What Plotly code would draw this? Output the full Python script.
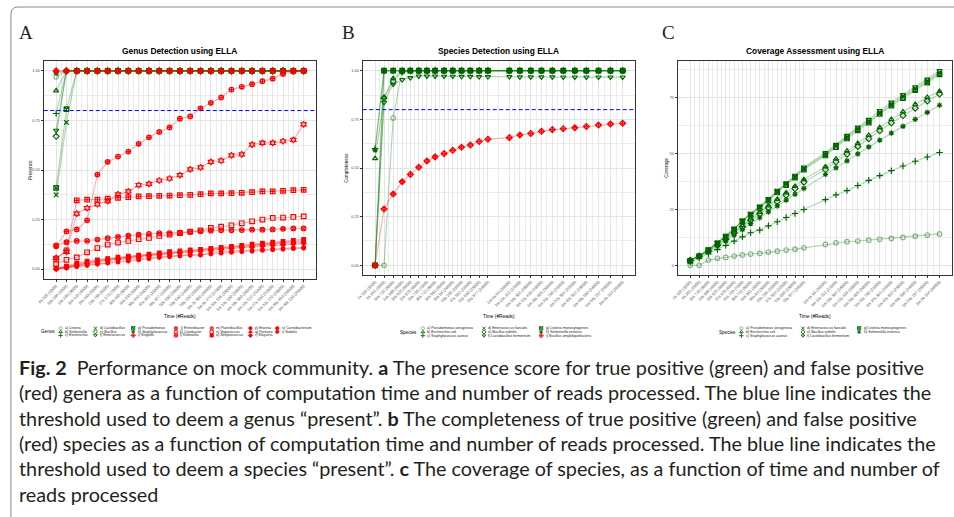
import plotly.graph_objects as go

W, H = 954, 517

# ---------------- DATA ----------------
# Panel A: genus presence vs. reads processed
reads_a = [1000, 2000, 3000, 4000, 5000, 6000, 7000, 8000, 9000, 10000, 11000, 12000, 13000,
           14000, 15000, 16000, 17000, 18000, 19000, 20000, 21000, 22000, 23000, 24000, 25000]
ticks_a = ["8s 205 (1000)", "10s 288 (2000)", "13s 239 (3000)", "16s 315 (4000)", "19s 183 (5000)",
           "23s 788 (6000)", "27s 173 (7000)", "30s 485 (8000)", "34s 393 (9000)", "38s 420 (10000)",
           "42s 452 (11000)", "46s 427 (12000)", "50s 430 (13000)", "53s 540 (14000)", "58s 220 (15000)",
           "1m 2s 380 (16000)", "1m 6s 272 (17000)", "1m 10s 195 (18000)", "1m 14s 130 (19000)",
           "1m 18s 380 (20000)", "1m 22s 512 (21000)", "1m 27s 103 (22000)", "1m 31s 270 (23000)",
           "1m 35s 450 (24000)", "1m 40s 133 (25000)"]

genus_names = ["a) Listeria", "b) Salmonella", "c) Escherichia", "d) Lactobacillus", "e) Bacillus",
               "f) Enterococcus", "g) Pseudomonas", "h) Staphylococcus", "i) Shigella", "j) Enterobacter",
               "k) Citrobacter", "l) Klebsiella", "m) Paenibacillus", "n) Vagococcus", "o) Streptococcus",
               "p) Erwinia", "q) Pantoea", "r) Kluyvera", "s) Carnobacterium", "t) Sodalis"]
genus_true_positive = [True, True, True, True, True, True, True, True,
                       False, False, False, False, False, False, False, False, False, False, False, False]

pres_listeria = [0.97, 1.00, 1.00, 1.00, 1.00, 1.00, 1.00, 1.00, 1.00, 1.00, 1.00, 1.00, 1.00, 1.00, 1.00, 1.00, 1.00, 1.00, 1.00, 1.00, 1.00, 1.00, 1.00, 1.00, 1.00]
pres_salmonella = [0.90, 1.00, 1.00, 1.00, 1.00, 1.00, 1.00, 1.00, 1.00, 1.00, 1.00, 1.00, 1.00, 1.00, 1.00, 1.00, 1.00, 1.00, 1.00, 1.00, 1.00, 1.00, 1.00, 1.00, 1.00]
pres_escherichia = [0.785, 1.00, 1.00, 1.00, 1.00, 1.00, 1.00, 1.00, 1.00, 1.00, 1.00, 1.00, 1.00, 1.00, 1.00, 1.00, 1.00, 1.00, 1.00, 1.00, 1.00, 1.00, 1.00, 1.00, 1.00]
pres_lactobacillus = [0.375, 0.74, 1.00, 1.00, 1.00, 1.00, 1.00, 1.00, 1.00, 1.00, 1.00, 1.00, 1.00, 1.00, 1.00, 1.00, 1.00, 1.00, 1.00, 1.00, 1.00, 1.00, 1.00, 1.00, 1.00]
pres_bacillus = [0.67, 1.00, 1.00, 1.00, 1.00, 1.00, 1.00, 1.00, 1.00, 1.00, 1.00, 1.00, 1.00, 1.00, 1.00, 1.00, 1.00, 1.00, 1.00, 1.00, 1.00, 1.00, 1.00, 1.00, 1.00]
pres_enterococcus = [0.70, 1.00, 1.00, 1.00, 1.00, 1.00, 1.00, 1.00, 1.00, 1.00, 1.00, 1.00, 1.00, 1.00, 1.00, 1.00, 1.00, 1.00, 1.00, 1.00, 1.00, 1.00, 1.00, 1.00, 1.00]
pres_pseudomonas = [0.41, 0.807, 1.00, 1.00, 1.00, 1.00, 1.00, 1.00, 1.00, 1.00, 1.00, 1.00, 1.00, 1.00, 1.00, 1.00, 1.00, 1.00, 1.00, 1.00, 1.00, 1.00, 1.00, 1.00, 1.00]
pres_staphylococcus = [0.99, 1.00, 1.00, 1.00, 1.00, 1.00, 1.00, 1.00, 1.00, 1.00, 1.00, 1.00, 1.00, 1.00, 1.00, 1.00, 1.00, 1.00, 1.00, 1.00, 1.00, 1.00, 1.00, 1.00, 1.00]
pres_shigella = [1.00, 1.00, 1.00, 1.00, 1.00, 1.00, 1.00, 1.00, 1.00, 1.00, 1.00, 1.00, 1.00, 1.00, 1.00, 1.00, 1.00, 1.00, 1.00, 1.00, 1.00, 1.00, 1.00, 1.00, 1.00]
pres_enterobacter = [0.115, 0.19, 0.20, 0.246, 0.477, 0.541, 0.568, 0.593, 0.632, 0.665, 0.692, 0.715, 0.759, 0.770, 0.811, 0.839, 0.866, 0.906, 0.920, 0.933, 0.948, 0.961, 0.985, 0.997, 1.00]
pres_citrobacter = [0.057, 0.087, 0.28, 0.308, 0.327, 0.343, 0.377, 0.392, 0.424, 0.43, 0.447, 0.457, 0.474, 0.503, 0.513, 0.541, 0.547, 0.574, 0.579, 0.628, 0.637, 0.637, 0.645, 0.652, 0.73]
pres_klebsiella = [0.05, 0.095, 0.347, 0.35, 0.35, 0.355, 0.36, 0.363, 0.367, 0.368, 0.37, 0.371, 0.373, 0.375, 0.378, 0.382, 0.382, 0.383, 0.385, 0.388, 0.392, 0.392, 0.395, 0.398, 0.40]
pres_paenibacillus = [0.12, 0.136, 0.142, 0.143, 0.149, 0.156, 0.162, 0.169, 0.174, 0.178, 0.182, 0.182, 0.184, 0.187, 0.191, 0.194, 0.196, 0.196, 0.197, 0.199, 0.199, 0.20, 0.203, 0.205, 0.205]
pres_vagococcus = [0.025, 0.047, 0.059, 0.085, 0.106, 0.124, 0.134, 0.142, 0.151, 0.157, 0.167, 0.174, 0.182, 0.189, 0.196, 0.208, 0.214, 0.221, 0.231, 0.241, 0.25, 0.258, 0.26, 0.263, 0.266]
pres_streptococcus = [0.005, 0.015, 0.03, 0.04, 0.047, 0.053, 0.06, 0.065, 0.07, 0.075, 0.082, 0.088, 0.092, 0.097, 0.10, 0.105, 0.11, 0.115, 0.12, 0.126, 0.131, 0.136, 0.14, 0.145, 0.15]
pres_erwinia = [0.0, 0.012, 0.025, 0.035, 0.043, 0.05, 0.055, 0.062, 0.068, 0.073, 0.079, 0.085, 0.09, 0.094, 0.098, 0.103, 0.108, 0.112, 0.117, 0.122, 0.127, 0.131, 0.135, 0.139, 0.142]
pres_pantoea = [0.003, 0.01, 0.02, 0.03, 0.04, 0.048, 0.054, 0.06, 0.066, 0.07, 0.076, 0.081, 0.085, 0.09, 0.094, 0.099, 0.104, 0.108, 0.113, 0.118, 0.123, 0.127, 0.131, 0.134, 0.137]
pres_kluyvera = [0.002, 0.008, 0.018, 0.028, 0.036, 0.043, 0.05, 0.056, 0.062, 0.067, 0.072, 0.077, 0.082, 0.086, 0.09, 0.095, 0.10, 0.104, 0.108, 0.112, 0.116, 0.12, 0.123, 0.127, 0.13]
pres_carnobacterium = [0.0, 0.008, 0.015, 0.022, 0.027, 0.032, 0.045, 0.05, 0.055, 0.058, 0.062, 0.066, 0.07, 0.073, 0.07, 0.085, 0.088, 0.09, 0.093, 0.095, 0.098, 0.101, 0.104, 0.107, 0.11]
pres_sodalis = [0.0, 0.005, 0.012, 0.018, 0.024, 0.03, 0.035, 0.04, 0.046, 0.052, 0.058, 0.062, 0.066, 0.069, 0.072, 0.076, 0.08, 0.084, 0.087, 0.09, 0.094, 0.097, 0.10, 0.103, 0.105]

genus_series = [pres_listeria, pres_salmonella, pres_escherichia, pres_lactobacillus, pres_bacillus,
                pres_enterococcus, pres_pseudomonas, pres_staphylococcus, pres_shigella, pres_enterobacter,
                pres_citrobacter, pres_klebsiella, pres_paenibacillus, pres_vagococcus, pres_streptococcus,
                pres_erwinia, pres_pantoea, pres_kluyvera, pres_carnobacterium, pres_sodalis]
presence_threshold = 0.8

# Panels B and C: time (s) at which each batch of reads was done
time_s = [2.1, 6.35, 10.7, 15.0, 18.9, 22.9, 26.8, 30.7, 35.0, 39.1, 43.3, 47.5, 51.7, 55.9,
          66.1, 71.1, 76.3, 81.4, 86.6, 91.8, 97.3, 102.8, 108.6, 114.3, 120.1]
ticks_bc = ["2s 105 (1000)", "6s 352 (2000)", "10s 715 (3000)", "14s 988 (4000)", "18s 925 (5000)",
            "22s 870 (6000)", "26s 793 (7000)", "30s 712 (8000)", "34s 961 (9000)", "39s 84 (10000)",
            "43s 296 (11000)", "47s 502 (12000)", "51s 690 (13000)", "55s 877 (14000)",
            "1m 6s 93 (16000)", "1m 11s 112 (17000)", "1m 16s 302 (18000)", "1m 21s 418 (19000)",
            "1m 26s 605 (20000)", "1m 31s 790 (21000)", "1m 37s 301 (22000)", "1m 42s 812 (23000)",
            "1m 48s 590 (24000)", "1m 54s 297 (25000)", "2m 0s 114 (26000)"]

species_names = ["a) Pseudomonas aeruginosa", "b) Escherichia coli", "c) Staphylococcus aureus",
                 "d) Enterococcus faecalis", "e) Bacillus subtilis", "f) Lactobacillus fermentum",
                 "g) Listeria monocytogenes", "h) Salmonella enterica", "i) Bacillus amyloliquefaciens"]

comp_paeruginosa = [0.0, 0.0, 0.757, 1.0, 1.0, 1.0, 1.0, 1.0, 1.0, 1.0, 1.0, 1.0, 1.0, 1.0, 1.0, 1.0, 1.0, 1.0, 1.0, 1.0, 1.0, 1.0, 1.0, 1.0, 1.0]
comp_ecoli = [0.549, 0.862, 0.96, 1.0, 1.0, 1.0, 1.0, 1.0, 1.0, 1.0, 1.0, 1.0, 1.0, 1.0, 1.0, 1.0, 1.0, 1.0, 1.0, 1.0, 1.0, 1.0, 1.0, 1.0, 1.0]
comp_saureus = [0.60, 1.0, 1.0, 1.0, 1.0, 1.0, 1.0, 1.0, 1.0, 1.0, 1.0, 1.0, 1.0, 1.0, 1.0, 1.0, 1.0, 1.0, 1.0, 1.0, 1.0, 1.0, 1.0, 1.0, 1.0]
comp_efaecalis = [0.0, 0.998, 1.0, 1.0, 1.0, 1.0, 1.0, 1.0, 1.0, 1.0, 1.0, 1.0, 1.0, 1.0, 1.0, 1.0, 1.0, 1.0, 1.0, 1.0, 1.0, 1.0, 1.0, 1.0, 1.0]
comp_bsubtilis = [0.0, 0.86, 0.945, 0.995, 1.0, 1.0, 1.0, 1.0, 1.0, 1.0, 1.0, 1.0, 1.0, 1.0, 1.0, 1.0, 1.0, 1.0, 1.0, 1.0, 1.0, 1.0, 1.0, 1.0, 1.0]
comp_lfermentum = [0.0, 0.837, 0.93, 0.954, 0.964, 0.972, 0.972, 0.972, 0.971, 0.971, 0.970, 0.970, 0.969, 0.969, 0.969, 0.968, 0.968, 0.968, 0.968, 0.967, 0.967, 0.967, 0.967, 0.967, 0.967]
comp_lmonocytogenes = [0.0, 1.0, 1.0, 1.0, 1.0, 1.0, 1.0, 1.0, 1.0, 1.0, 1.0, 1.0, 1.0, 1.0, 1.0, 1.0, 1.0, 1.0, 1.0, 1.0, 1.0, 1.0, 1.0, 1.0, 1.0]
comp_senterica = [0.592, 1.0, 1.0, 1.0, 1.0, 1.0, 1.0, 1.0, 1.0, 1.0, 1.0, 1.0, 1.0, 1.0, 1.0, 1.0, 1.0, 1.0, 1.0, 1.0, 1.0, 1.0, 1.0, 1.0, 1.0]
comp_bamyloliquefaciens = [0.0, 0.289, 0.366, 0.429, 0.467, 0.504, 0.536, 0.557, 0.574, 0.591, 0.607, 0.618, 0.636, 0.648, 0.656, 0.67, 0.677, 0.689, 0.697, 0.702, 0.707, 0.713, 0.721, 0.726, 0.73]
species_series_b = [comp_paeruginosa, comp_ecoli, comp_saureus, comp_efaecalis, comp_bsubtilis,
                    comp_lfermentum, comp_lmonocytogenes, comp_senterica, comp_bamyloliquefaciens]
species_true_positive = [True, True, True, True, True, True, True, True, False]
completeness_threshold = 0.8

cov_paeruginosa = [0.0, 0.0, 2.3, 3.1, 3.5, 4.1, 4.6, 5.0, 5.3, 5.9, 6.3, 6.8, 7.2, 7.8, 9.3, 10.0, 10.5, 10.8, 11.2, 11.6, 12.0, 12.4, 13.0, 13.5, 14.0]
cov_ecoli = [2.3, 4.2, 6.6, 9.4, 12.0, 14.9, 17.8, 20.8, 23.7, 26.6, 29.5, 32.4, 35.3, 38.3, 44.0, 47.4, 51.0, 54.4, 58.0, 61.5, 65.1, 68.5, 71.8, 75.0, 77.6]
cov_saureus = [1.2, 3.2, 5.1, 7.0, 8.9, 10.8, 12.7, 14.5, 15.7, 17.6, 19.4, 21.3, 23.1, 24.9, 29.3, 31.4, 33.3, 35.6, 37.9, 40.0, 42.2, 44.3, 46.4, 48.3, 50.3]
cov_efaecalis = [2.2, 4.2, 7.0, 10.0, 13.0, 16.2, 19.8, 22.8, 26.0, 29.3, 33.0, 36.2, 39.6, 43.2, 49.6, 53.3, 57.2, 60.9, 64.3, 68.2, 71.9, 75.3, 78.8, 82.2, 85.9]
cov_bsubtilis = [2.2, 4.1, 6.4, 9.1, 11.6, 14.4, 17.2, 20.1, 22.9, 25.7, 28.5, 31.3, 34.2, 37.1, 42.7, 46.1, 49.6, 53.0, 56.5, 60.0, 63.5, 66.8, 70.1, 73.3, 76.4]
cov_lfermentum = [2.3, 4.3, 7.1, 10.2, 13.2, 16.4, 20.1, 23.1, 26.3, 29.7, 33.4, 36.7, 40.1, 43.8, 50.2, 53.9, 57.9, 61.6, 65.0, 69.0, 72.7, 76.1, 79.6, 83.0, 86.8]
cov_lmonocytogenes = [2.0, 4.0, 6.8, 9.8, 12.8, 15.9, 19.5, 22.5, 25.6, 28.9, 32.5, 35.8, 39.1, 42.7, 49.0, 52.7, 56.6, 60.2, 63.6, 67.5, 71.2, 74.6, 78.1, 81.5, 85.2]
cov_senterica = [2.1, 3.9, 6.0, 8.4, 10.8, 13.4, 15.9, 18.6, 21.2, 23.8, 26.5, 29.1, 31.7, 34.3, 40.5, 43.5, 46.6, 49.7, 52.8, 55.8, 59.0, 62.0, 65.1, 68.2, 71.4]
species_series_c = [cov_paeruginosa, cov_ecoli, cov_saureus, cov_efaecalis, cov_bsubtilis,
                    cov_lfermentum, cov_lmonocytogenes, cov_senterica]

caption_lines = [
    "<b>Fig. 2</b>  Performance on mock community. <b>a</b> The presence score for true positive (green) and false positive",
    "(red) genera as a function of computation time and number of reads processed. The blue line indicates the",
    "threshold used to deem a genus “present”. <b>b</b> The completeness of true positive (green) and false positive",
    "(red) species as a function of computation time and number of reads processed. The blue line indicates the",
    "threshold used to deem a species “present”. <b>c</b> The coverage of species, as a function of time and number of",
    "reads processed",
]

# ---------------- STYLE ----------------
SHAPES = ['circle-open', 'triangle-up-open', 'cross-thin-open', 'x-thin-open', 'diamond-open',
          'triangle-down-open', 'square-x-open', 'asterisk-open', 'diamond-cross-open', 'circle-cross-open',
          'hexagram-open', 'square-cross-open', 'circle-x-open', 'square-open', 'square', 'circle',
          'triangle-up', 'diamond', 'circle', 'circle']
GREEN = '#006400'
LIGHT_GREEN = 'rgba(0,100,0,0.45)'
RED = '#ff0000'
GREEN_LINE = 'rgba(0,128,0,0.32)'
RED_LINE = 'rgba(255,0,0,0.32)'
SANS = 'Liberation Sans'
MLW = 1.15


def msize(i):
    return 3.6 if i >= 14 else 4.6


def px_x(p):
    return p / W


def px_y(p):
    return 1 - p / H


def mk_color(i, tp):
    if not tp:
        return RED
    return LIGHT_GREEN if i == 0 else GREEN


fig = go.Figure()

# Panel A
for order in (True, False):
    for i, (name, ys, tp) in enumerate(zip(genus_names, genus_series, genus_true_positive)):
        if tp != order:
            continue
        fig.add_trace(go.Scatter(
            x=reads_a, y=ys, mode='lines+markers', name=name, showlegend=False,
            line=dict(color=GREEN_LINE if tp else RED_LINE, width=1.1),
            marker=dict(symbol=SHAPES[i], size=msize(i), color=mk_color(i, tp),
                        line=dict(width=MLW, color=mk_color(i, tp))),
            xaxis='x', yaxis='y', cliponaxis=False))

# Panel B
for order in (True, False):
    for i, (name, ys, tp) in enumerate(zip(species_names, species_series_b, species_true_positive)):
        if tp != order:
            continue
        fig.add_trace(go.Scatter(
            x=time_s, y=ys, mode='lines+markers', name=name, showlegend=False,
            line=dict(color=GREEN_LINE if tp else RED_LINE, width=1.1),
            marker=dict(symbol=SHAPES[i], size=msize(i), color=mk_color(i, tp),
                        line=dict(width=MLW, color=mk_color(i, tp))),
            xaxis='x2', yaxis='y2', cliponaxis=False))

# Panel C
for i, (name, ys) in enumerate(zip(species_names, species_series_c)):
    fig.add_trace(go.Scatter(
        x=time_s, y=ys, mode='lines+markers', name=name, showlegend=False,
        line=dict(color=GREEN_LINE, width=1.1),
        marker=dict(symbol=SHAPES[i], size=msize(i), color=mk_color(i, True),
                    line=dict(width=MLW, color=mk_color(i, True))),
        xaxis='x3', yaxis='y3', cliponaxis=False))

# ---- legends (drawn on a full-figure pixel overlay) ----
annotations = []


def add_legend(title, title_right, names, tps, col_x, row_y, rows=3):
    annotations.append(dict(x=px_x(title_right), y=px_y(row_y[1]), xref='paper', yref='paper',
                            text=title, showarrow=False, xanchor='right', yanchor='middle',
                            font=dict(family=SANS, size=4.6, color='#000000')))
    for i, (nm, tp) in enumerate(zip(names, tps)):
        cx = col_x[i // rows]
        cy = row_y[i % rows]
        c = mk_color(i, tp)
        fig.add_trace(go.Scatter(x=[cx], y=[cy], mode='markers', showlegend=False, hoverinfo='skip',
                                 marker=dict(symbol=SHAPES[i], size=3.2, color=c, line=dict(width=0.9, color=c)),
                                 xaxis='x4', yaxis='y4'))
        annotations.append(dict(x=px_x(cx + 2.5), y=px_y(cy), xref='paper', yref='paper', text=nm,
                                showarrow=False, xanchor='left', yanchor='middle',
                                font=dict(family=SANS, size=3.6, color='#1a1a1a')))


add_legend('Genus', 51, genus_names, genus_true_positive,
           [55, 90, 128, 171, 207, 246, 273], [328.2, 331.8, 335.4])
add_legend('Species', 416, species_names, species_true_positive,
           [419.5, 481, 538.5], [328.3, 332, 335.7])
add_legend('Species', 737, species_names[:8], species_true_positive[:8],
           [740, 802, 858.5], [328.3, 332, 335.7])

# ---- axes ----
AX = dict(showline=True, mirror=True, linecolor='#333333', linewidth=1, showgrid=True,
          gridcolor='#e4e4e4', gridwidth=0.8, zeroline=False, ticks='outside', ticklen=2,
          tickwidth=0.6, tickcolor='#333333', fixedrange=True,
          tickfont=dict(family=SANS, size=4, color='#4d4d4d'))


def mids(v):
    return [(a + b) / 2 for a, b in zip(v[:-1], v[1:])]


span_a = reads_a[-1] - reads_a[0]
span_t = time_s[-1] - time_s[0]
xa = dict(AX, domain=[px_x(38), px_x(312)], range=[reads_a[0] - 0.05 * span_a, reads_a[-1] + 0.05 * span_a],
          tickmode='array', tickvals=reads_a, ticktext=ticks_a, tickangle=-45, anchor='y',
          minor=dict(tickmode='array', tickvals=mids(reads_a), showgrid=True, gridcolor='#ececec', gridwidth=0.5))
xb = dict(AX, domain=[px_x(359), px_x(633)], range=[time_s[0] - 0.05 * span_t, time_s[-1] + 0.05 * span_t],
          tickmode='array', tickvals=time_s, ticktext=ticks_bc, tickangle=-45, anchor='y2',
          minor=dict(tickmode='array', tickvals=mids(time_s), showgrid=True, gridcolor='#ececec', gridwidth=0.5))
xc = dict(xb, domain=[px_x(676), px_x(952)], anchor='y3')

prob_ticks = [0, 0.25, 0.5, 0.75, 1.0]
prob_text = ['0.00', '0.25', '0.50', '0.75', '1.00']
ya = dict(AX, domain=[px_y(279), px_y(61)], range=[-0.05, 1.05], tickmode='array', tickvals=prob_ticks,
          ticktext=prob_text, anchor='x',
          minor=dict(tickmode='array', tickvals=mids(prob_ticks), showgrid=True, gridcolor='#ececec', gridwidth=0.5))
yb = dict(ya, domain=[px_y(275), px_y(61)], anchor='x2')
cmax = max(max(s) for s in species_series_c)
cov_ticks = [0, 25, 50, 75]
yc = dict(AX, domain=[px_y(275), px_y(61)], range=[-0.05 * cmax, 1.05 * cmax], tickmode='array',
          tickvals=cov_ticks, ticktext=[str(t) for t in cov_ticks], anchor='x3',
          minor=dict(tickmode='array', tickvals=[12.5, 37.5, 62.5, 87.5], showgrid=True,
                     gridcolor='#ececec', gridwidth=0.5))


# ---- titles / labels ----
def ann(x, y, text, size, family=SANS, color='#000000', xanchor='center', angle=0):
    annotations.append(dict(x=px_x(x), y=px_y(y), xref='paper', yref='paper', text=text, showarrow=False,
                            xanchor=xanchor, yanchor='middle', textangle=angle,
                            font=dict(family=family, size=size, color=color)))


ann(175, 51, '<b>Genus Detection using ELLA</b>', 8.4)
ann(496, 51, '<b>Species Detection using ELLA</b>', 8.4)
ann(814, 51, '<b>Coverage Assessment using ELLA</b>', 8.4)
ann(20, 33, 'A', 19, family='Liberation Serif', color='#231f20')
ann(345, 33, 'B', 19, family='Liberation Serif', color='#231f20')
ann(667, 33, 'C', 19, family='Liberation Serif', color='#231f20')
ann(175, 316, 'Time (#Reads)', 4.8)
ann(496, 316, 'Time (#Reads)', 4.8)
ann(814, 316, 'Time (#Reads)', 4.8)
ann(24, 170, 'Presence', 4.6, angle=-90)
ann(343, 168, 'Completeness', 4.6, angle=-90)
ann(665, 168, 'Coverage', 4.6, angle=-90)

for k, line in enumerate(caption_lines):
    annotations.append(dict(x=px_x(11), y=px_y(367 + 25.3 * k), xref='paper', yref='paper', text=line,
                            showarrow=False, xanchor='left', yanchor='middle',
                            font=dict(family='Lato', size=19.8, color='#231f20')))

DASH = '4px,2.5px'
shapes = [
    dict(type='line', xref='x domain', yref='y', x0=0, x1=1, y0=presence_threshold, y1=presence_threshold,
         line=dict(color='#0000ff', width=1, dash=DASH)),
    dict(type='line', xref='x2 domain', yref='y2', x0=0, x1=1, y0=completeness_threshold,
         y1=completeness_threshold, line=dict(color='#0000ff', width=1, dash=DASH)),
    dict(type='path', xref='paper', yref='paper',
         path=f'M {px_x(W)} {px_y(7)} L {px_x(12)} {px_y(7)} Q {px_x(5)} {px_y(7)} {px_x(5)} {px_y(14)} L {px_x(5)} {px_y(H)}',
         line=dict(color='#8a8a8a', width=1)),
]

fig.update_layout(
    width=W, height=H, margin=dict(l=0, r=0, t=0, b=0), paper_bgcolor='white',
    plot_bgcolor='rgba(0,0,0,0)',
    showlegend=False, xaxis=xa, yaxis=ya, xaxis2=xb, yaxis2=yb, xaxis3=xc, yaxis3=yc,
    xaxis4=dict(domain=[0, 1], range=[0, W], visible=False, fixedrange=True, anchor='y4'),
    yaxis4=dict(domain=[0, 1], range=[H, 0], visible=False, fixedrange=True, anchor='x4'),
    annotations=annotations, shapes=shapes,
)

fig.write_html("out.html", config={'displayModeBar': False},
               post_script="document.body.style.margin='0px';")
